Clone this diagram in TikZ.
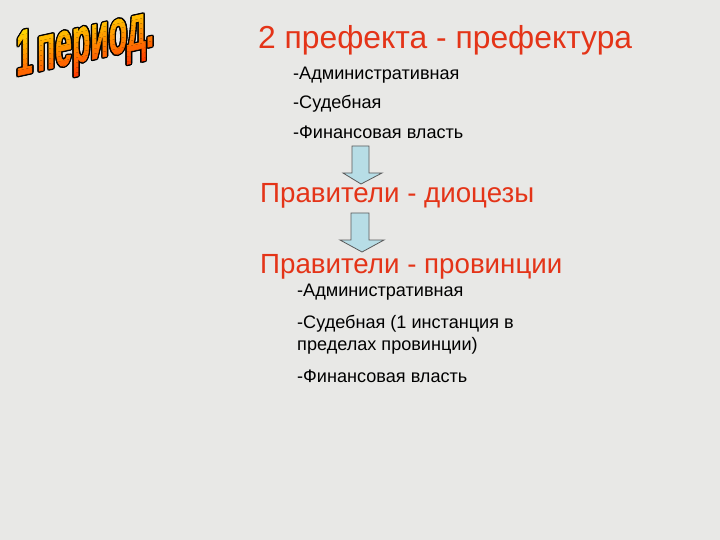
\documentclass[tikz,border=0pt]{standalone}
\usepackage{fontspec}
\setmainfont{Liberation Sans}
\newfontfamily\wafont[FakeBold=1.5]{Liberation Sans Bold}
\definecolor{bg}{RGB}{232,232,230}
\definecolor{redtxt}{RGB}{228,52,24}
\definecolor{arrowfill}{RGB}{183,221,230}
\definecolor{arrowline}{RGB}{90,90,90}
\tikzset{
  title/.style={anchor=base west, inner sep=0pt, text=redtxt, font=\fontsize{31.8}{38}\selectfont},
  head/.style={anchor=base west, inner sep=0pt, text=redtxt, font=\fontsize{27.7}{33}\selectfont},
  item/.style={anchor=base west, inner sep=0pt, text=black, font=\fontsize{18.1}{22}\selectfont, align=left},
  blockarrow/.style={fill=arrowfill, draw=arrowline, line width=0.8pt, line join=miter},
  wa/.style={anchor=base west, inner sep=0pt, transform shape, font=\fontsize{64}{70}\wafont}
}
\newcommand{\watext}{1\hspace{9pt}период.}
\begin{document}
\begin{tikzpicture}[x=1pt,y=-1pt]
\fill[bg] (0,0) rectangle (720,540);
\useasboundingbox (0,0) rectangle (720,540);

% WordArt title
\begin{scope}[shift={(16,76)}, x=1pt, y=1pt, yslant=0.22, xscale=0.47]
  \foreach \dx/\dy in {-3/0,3/0,0/-1.4,0/1.4,-2.2/-1,2.2/-1,-2.2/1,2.2/1}{
    \node[wa, text=black] at (\dx,\dy) {\watext};
  }
  \foreach \i in {0,...,12}{
    \pgfmathtruncatemacro\g{60+14*\i}
    \definecolor{band}{RGB}{255,\g,0}
    \begin{scope}
      \clip (-10,-15+5*\i) rectangle (360,-10+5*\i);
      \node[wa, text=band] at (0,0) {\watext};
    \end{scope}
  }
  \begin{scope}
    \clip (-10,50) rectangle (360,80);
    \node[wa, text={rgb,255:red,255;green,240;blue,0}] (wordart) at (0,0) {\watext};
  \end{scope}
\end{scope}

\node[title] (t1) at (258,49) {2 префекта - префектура};
\node[item] (a1) at (293,80) {-Административная};
\node[item] (a2) at (293,109) {-Судебная};
\node[item] (a3) at (293,139) {-Финансовая власть};

\node[head] (h1) at (260,203) {Правители - диоцезы};
\node[head] (h2) at (260,273) {Правители - провинции};

\node[item] (b1) at (297,296) {-Административная};
\node[item] (b2) at (297,328) {-Судебная (1 инстанция в};
\node[item] (b3) at (297,350) {пределах провинции)};
\node[item] (b4) at (297,382) {-Финансовая власть};

% block arrows
\draw[blockarrow] (352,146) -- (369,146) -- (369,173) -- (382,173) -- (361,184) -- (343,173) -- (352,173) -- cycle;
\draw[blockarrow] (351,213) -- (369,213) -- (369,240) -- (384,240) -- (362,252) -- (340,240) -- (351,240) -- cycle;
\end{tikzpicture}
\end{document}
